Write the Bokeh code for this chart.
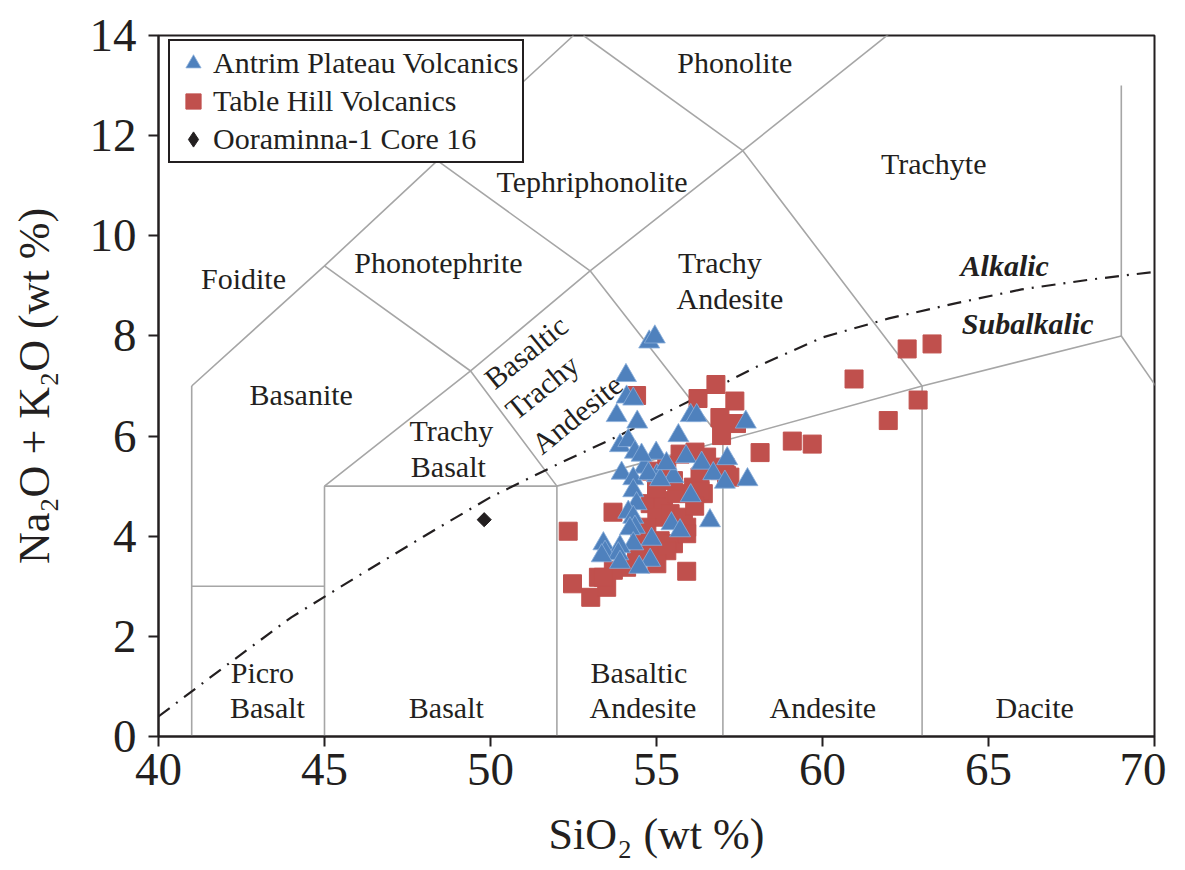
import math
from bokeh.plotting import figure
from bokeh.models import ColumnDataSource, Legend, LegendItem, Range1d, FixedTicker
from bokeh.core.properties import value
from bokeh.embed import file_html
from bokeh.resources import INLINE

FONT = "Liberation Serif"
INK = "#231F20"
BLUE = "#4F81BD"
RED = "#C0504D"
GRID = "#A6A6A6"

# ---------------- data ----------------
antrim_sio2 = [54.78, 54.95, 54.08, 54.10, 54.30, 53.80, 54.42, 56.03, 56.21, 57.69,
               55.66, 53.90, 54.15, 54.35, 54.99, 55.89, 56.36, 57.13, 56.71, 57.06,
               57.74, 54.63, 55.01, 55.51, 53.95, 54.30, 54.76, 55.11, 54.30, 56.03,
               54.40, 54.15, 54.30, 56.61, 55.45, 55.71, 54.35, 54.20, 54.85, 54.30,
               53.40, 53.90, 53.45, 53.85, 54.81, 54.48, 53.90, 53.35, 55.30, 54.55]
antrim_alk = [7.88, 7.98, 7.21, 6.78, 6.74, 6.41, 6.28, 6.41, 6.41, 6.28,
              6.01, 5.81, 5.91, 5.68, 5.66, 5.59, 5.46, 5.55, 5.25, 5.08,
              5.13, 5.38, 5.21, 5.19, 5.26, 5.15, 5.25, 5.13, 4.91, 4.81,
              4.65, 4.48, 4.38, 4.31, 4.25, 4.11, 4.18, 4.15, 3.94, 3.85,
              3.85, 3.79, 3.68, 3.65, 3.52, 3.38, 3.48, 3.61, 5.45, 5.62]

table_sio2 = [56.79, 54.40, 56.25, 57.36, 56.91, 57.41, 56.96, 58.12, 62.55, 63.30,
              60.95, 62.88, 61.98, 59.09, 59.69, 52.34, 53.69, 55.91, 52.47, 53.02,
              53.25, 53.50, 54.81, 55.21, 55.61, 56.11, 56.41, 56.31, 55.51, 55.01,
              55.41, 55.81, 55.91, 54.71, 54.50, 55.11, 55.51, 55.91, 54.90, 55.31,
              54.40, 55.01, 54.10, 53.70, 53.40, 55.71, 56.16, 56.51, 56.91, 57.11,
              55.31, 56.31, 57.06, 57.21, 55.00, 54.85, 56.15]
table_alk = [7.03, 6.81, 6.75, 6.70, 6.37, 6.25, 6.01, 5.67, 7.74, 7.84,
             7.14, 6.72, 6.31, 5.90, 5.84, 4.10, 4.48, 3.30, 3.05, 2.78,
             3.18, 2.98, 4.65, 4.71, 4.85, 4.98, 4.85, 5.18, 5.11, 4.38,
             4.45, 4.38, 4.18, 4.18, 3.85, 3.91, 3.85, 4.05, 3.65, 3.71,
             3.52, 3.45, 3.38, 3.32, 3.18, 5.64, 5.68, 5.58, 5.31, 5.21,
             5.41, 4.91, 5.38, 5.18, 4.95, 5.30, 4.60]

core_sio2 = [49.81]
core_alk = [4.33]

x_ticks = [40, 45, 50, 55, 60, 65, 70]
y_ticks = [0, 2, 4, 6, 8, 10, 12, 14]

x_title = "SiO\u2082 (wt %)"
y_title = "Na\u2082O + K\u2082O (wt %)"

# TAS field boundaries (Le Bas et al. 1986)
tas_xs = [[41, 41], [41, 45], [45, 45], [45, 52], [52, 52], [52, 57, 63, 69],
          [57, 57], [63, 63], [69, 69], [69, 77.3], [41, 45, 48.4, 52.5],
          [45, 49.4, 52], [45, 49.4, 53, 57], [48.4, 53, 57.6, 63],
          [52.8, 57.6], [57.6, 63]]
tas_ys = [[0, 7], [3, 3], [0, 5], [5, 5], [0, 5], [5, 5.9, 7, 8],
          [0, 5.9], [0, 7], [8, 13], [8, 0], [7, 9.4, 11.5, 14],
          [5, 7.3, 5], [9.4, 7.3, 9.3, 5.9], [11.5, 9.3, 11.7, 7],
          [14, 11.7], [11.7, 14.56]]

# Alkalic / subalkalic divide
div_x = [40, 42, 44, 46, 48, 50, 52, 54, 56, 58, 60, 62, 64, 66, 68, 70]
div_y = [0.40, 1.40, 2.38, 3.20, 4.00, 4.78, 5.43, 6.05, 6.70, 7.38, 7.97, 8.35, 8.65, 8.93, 9.12, 9.28]

field_names = ["Phonolite", "Trachyte", "Tephriphonolite", "Foidite", "Phonotephrite",
               "Trachy", "Andesite", "Basanite", "Trachy", "Basalt",
               "Picro", "Basalt", "Basalt", "Basaltic", "Andesite", "Andesite", "Dacite",
               "Basaltic", "Trachy", "Andesite"]
field_x = [57.36, 63.35, 53.06, 42.56, 48.43, 56.91, 57.21, 44.30, 48.82, 48.73,
           43.13, 43.28, 48.67, 54.47, 54.59, 60.01, 66.39, 51.07, 51.55, 52.60]
field_y = [13.46, 11.44, 11.08, 9.15, 9.47, 9.47, 8.75, 6.83, 6.11, 5.39,
           1.28, 0.58, 0.58, 1.28, 0.58, 0.58, 0.58, 7.68, 6.98, 6.44]
field_angle = [0.0] * 17 + [0.68, 0.68, 0.68]

series_names = ["Alkalic", "Subalkalic"]
series_x = [65.49, 66.18]
series_y = [9.41, 8.25]

# ---------------- figure ----------------
p = figure(frame_width=996, frame_height=701,
           x_range=Range1d(40, 70), y_range=Range1d(0, 14),
           output_backend="svg", toolbar_location=None,
           min_border_left=158, min_border_top=35, min_border_right=12, min_border_bottom=130)
p.background_fill_color = "white"
p.border_fill_color = "white"
p.outline_line_color = INK
p.outline_line_width = 2
p.outline_line_alpha = 1.0
p.xgrid.visible = False
p.ygrid.visible = False

for ax, ticks in ((p.xaxis[0], x_ticks), (p.yaxis[0], y_ticks)):
    ax.ticker = FixedTicker(ticks=ticks)
    ax.axis_line_color = INK
    ax.axis_line_width = 2
    ax.major_tick_line_color = INK
    ax.major_tick_line_width = 2
    ax.major_tick_out = 10
    ax.major_tick_in = 0
    ax.minor_tick_line_color = None
    ax.major_label_text_font = FONT
    ax.major_label_text_font_size = "47px"
    ax.major_label_text_color = INK
    ax.axis_label_text_font = FONT
    ax.axis_label_text_font_size = "44px"
    ax.axis_label_text_font_style = "normal"
    ax.axis_label_text_color = INK
p.xaxis[0].major_label_standoff = 7
p.yaxis[0].major_label_standoff = 12
p.xaxis[0].axis_label = x_title
p.yaxis[0].axis_label = y_title
p.xaxis[0].axis_label_standoff = 22
p.yaxis[0].axis_label_standoff = 28

# field boundaries
p.multi_line(xs=tas_xs, ys=tas_ys, line_color=GRID, line_width=1.6)
# divide
p.line(div_x, div_y, line_color=INK, line_width=2.2, line_dash="14 8 2 8")

# field labels
fsrc = ColumnDataSource(dict(x=field_x, y=field_y, t=field_names, a=field_angle))
p.text(x="x", y="y", text="t", angle="a", source=fsrc, text_font=value(FONT),
       text_font_size="30px", text_color=INK, text_align="center", text_baseline="middle")
ssrc = ColumnDataSource(dict(x=series_x, y=series_y, t=series_names))
p.text(x="x", y="y", text="t", source=ssrc, text_font=value(FONT), text_font_style="bold italic",
       text_font_size="30px", text_color=INK, text_align="center", text_baseline="middle")

# data
r_table = p.scatter(table_sio2, table_alk, marker="square", size=18,
                    fill_color=RED, line_color=RED, line_width=1)
r_antrim = p.scatter(antrim_sio2, antrim_alk, marker="triangle", size=21,
                     fill_color=BLUE, line_color="#8AAEDB", line_width=0.8)
# the core sample: a small diamond (its legend swatch) covered by a rotated square
r_core_key = p.scatter(core_sio2, core_alk, marker="diamond", size=9,
                       fill_color=INK, line_color=INK)
r_core = p.scatter(core_sio2, core_alk, marker="square", angle=math.pi / 4, size=10,
                   fill_color=INK, line_color=INK)

legend = Legend(items=[LegendItem(label="Antrim Plateau Volcanics", renderers=[r_antrim]),
                       LegendItem(label="Table Hill Volcanics", renderers=[r_table]),
                       LegendItem(label="Ooraminna-1 Core 16", renderers=[r_core_key])],
                location=(10, 573), padding=3, spacing=0,
                glyph_width=40, glyph_height=38, label_standoff=0,
                label_text_font=FONT, label_text_font_size="30px", label_text_color=INK,
                border_line_color=INK, border_line_width=2, border_line_alpha=1.0,
                background_fill_color="white", background_fill_alpha=1.0)
p.add_layout(legend, "center")

open("out.html", "w").write(file_html(p, INLINE))
